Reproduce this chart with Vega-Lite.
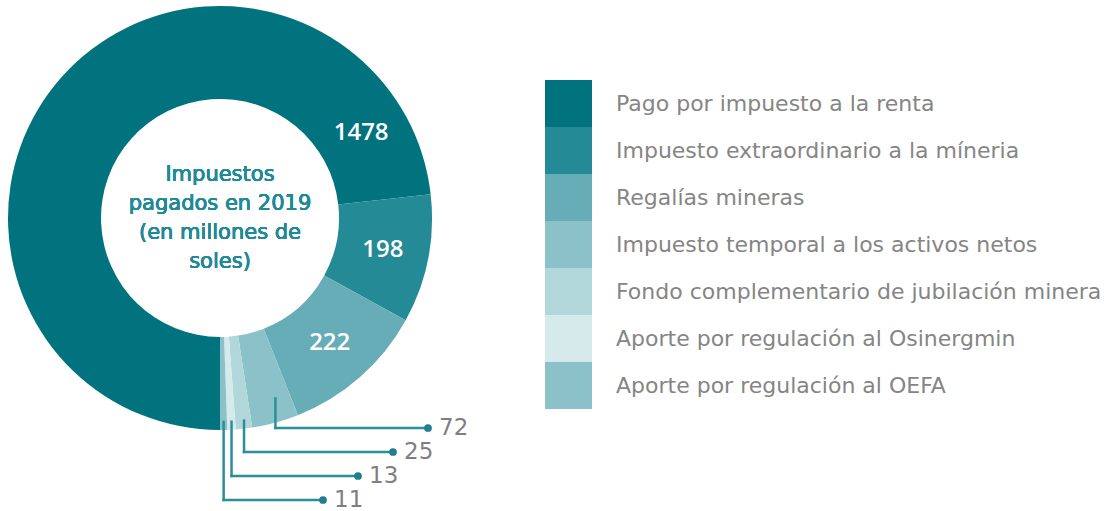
{
  "$schema": "https://vega.github.io/schema/vega-lite/v6.json",
  "width": 440,
  "height": 436,
  "padding": 0,
  "autosize": {"type": "pad"},
  "background": "white",
  "config": {"view": {"stroke": null}, "font": "DejaVu Sans"},
  "data": {
    "values": [
      {"categoria": "Pago por impuesto a la renta", "valor": 1478, "orden": 1},
      {"categoria": "Impuesto extraordinario a la míneria", "valor": 198, "orden": 2},
      {"categoria": "Regalías mineras", "valor": 222, "orden": 3},
      {"categoria": "Impuesto temporal a los activos netos", "valor": 72, "orden": 4},
      {"categoria": "Fondo complementario de jubilación minera", "valor": 25, "orden": 5},
      {"categoria": "Aporte por regulación al Osinergmin", "valor": 13, "orden": 6},
      {"categoria": "Aporte por regulación al OEFA", "valor": 11, "orden": 7}
    ]
  },
  "layer": [
    {
      "mark": {"type": "arc", "innerRadius": 119, "outerRadius": 212},
      "encoding": {
        "theta": {"field": "valor", "type": "quantitative", "stack": true, "scale": {"range": [3.141592653589793, 9.42477796076938]}},
        "order": {"field": "orden", "type": "quantitative"},
        "color": {
          "field": "categoria",
          "type": "nominal",
          "scale": {
            "domain": ["Pago por impuesto a la renta", "Impuesto extraordinario a la míneria", "Regalías mineras", "Impuesto temporal a los activos netos", "Fondo complementario de jubilación minera", "Aporte por regulación al Osinergmin", "Aporte por regulación al OEFA"],
            "range": ["#00737f", "#238a96", "#66adb7", "#8bc2c9", "#b2d7db", "#d6e9eb", "#8bc2c9"]
          },
          "legend": {
            "title": null,
            "orient": "none",
            "legendX": 545,
            "legendY": 80,
            "padding": 0,
            "symbolType": "square",
            "symbolSize": 2209,
            "symbolStrokeWidth": 0,
            "symbolOpacity": 1,
            "rowPadding": 0,
            "labelFontSize": 22,
            "labelFont": "DejaVu Sans",
            "labelColor": "#858585",
            "labelOffset": 24,
            "labelLimit": 0
          }
        }
      }
    },
    {
      "mark": {"type": "text", "radius": 166, "font": "Open Sans", "fontSize": 24, "fontWeight": 600, "color": "white"},
      "encoding": {
        "theta": {"field": "valor", "type": "quantitative", "stack": true, "scale": {"range": [3.141592653589793, 9.42477796076938]}},
        "order": {"field": "orden", "type": "quantitative"},
        "detail": {"field": "categoria", "type": "nominal"},
        "text": {"condition": {"test": "datum.orden == 2 || datum.orden == 3", "field": "valor", "type": "quantitative", "format": "d"}, "value": ""}
      }
    },
    {
      "mark": {"type": "text", "radius": 165, "thetaOffset": 1.868, "font": "Open Sans", "fontSize": 24, "fontWeight": 600, "color": "white"},
      "encoding": {
        "theta": {"field": "valor", "type": "quantitative", "stack": true, "scale": {"range": [3.141592653589793, 9.42477796076938]}},
        "order": {"field": "orden", "type": "quantitative"},
        "detail": {"field": "categoria", "type": "nominal"},
        "text": {"condition": {"test": "datum.orden == 1", "field": "valor", "type": "quantitative", "format": "d"}, "value": ""}
      }
    },
    {
      "mark": {"type": "text", "text": ["Impuestos", "pagados en 2019", "(en millones de", "soles)"], "fontSize": 21, "lineHeight": 29, "dy": -43, "color": "#1f8a98", "align": "center", "baseline": "middle"},
      "encoding": {}
    },
    {
      "transform": [
        {"window": [{"op": "sum", "field": "valor", "as": "acum"}], "sort": [{"field": "orden"}], "frame": [null, 0]},
        {"joinaggregate": [{"op": "sum", "field": "valor", "as": "total"}]},
        {"filter": "datum.orden >= 4"},
        {"calculate": "PI + 2 * PI * (datum.acum - datum.valor / 2) / datum.total", "as": "ang"},
        {"calculate": "datum.orden - 3", "as": "nivel"},
        {"calculate": "212 * sin(datum.ang)", "as": "ax"},
        {"calculate": "-(datum.nivel == 1 ? 187 : 204) * cos(datum.ang)", "as": "ay"},
        {"calculate": "210 + 24 * (datum.nivel - 1)", "as": "ly"},
        {"calculate": "208 - 35 * (datum.nivel - 1)", "as": "ex"}
      ],
      "layer": [
        {
          "mark": {"type": "rule", "color": "#2a8f9b", "strokeWidth": 2.5, "strokeCap": "square"},
          "encoding": {
            "x": {"field": "ax", "type": "quantitative", "scale": {"domain": [-220, 220], "nice": false, "zero": false}, "axis": null},
            "y": {"field": "ay", "type": "quantitative", "scale": {"domain": [-218, 218], "nice": false, "zero": false, "reverse": true}, "axis": null},
            "y2": {"field": "ly"}
          }
        },
        {
          "mark": {"type": "rule", "color": "#2a8f9b", "strokeWidth": 2.5, "strokeCap": "square"},
          "encoding": {
            "x": {"field": "ax", "type": "quantitative"},
            "x2": {"field": "ex"},
            "y": {"field": "ly", "type": "quantitative"}
          }
        },
        {
          "mark": {"type": "point", "filled": true, "size": 60, "color": "#1f7f8b", "opacity": 1},
          "encoding": {
            "x": {"field": "ex", "type": "quantitative"},
            "y": {"field": "ly", "type": "quantitative"}
          }
        },
        {
          "mark": {"type": "text", "align": "left", "baseline": "middle", "dx": 11, "fontSize": 23, "color": "#7f7f7f"},
          "encoding": {
            "x": {"field": "ex", "type": "quantitative"},
            "y": {"field": "ly", "type": "quantitative"},
            "text": {"field": "valor", "type": "quantitative", "format": "d"}
          }
        }
      ]
    }
  ]
}
